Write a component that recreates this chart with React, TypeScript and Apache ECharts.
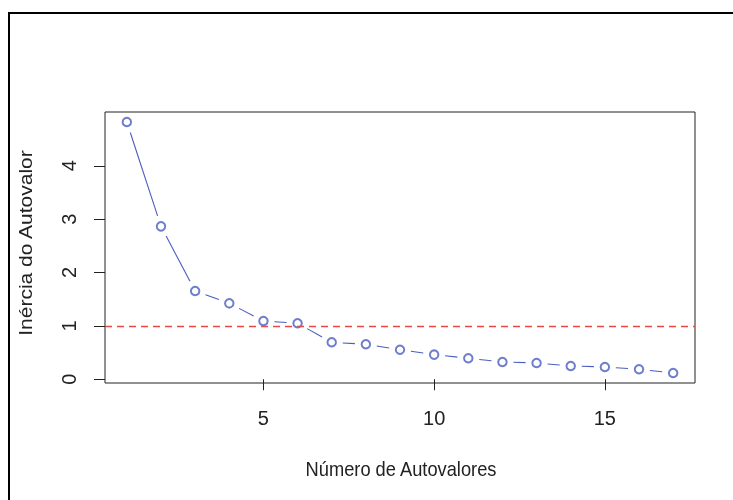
import React, { useEffect, useRef } from "react";
import * as echarts from "echarts";

const autovalorIndex: number[] = [1, 2, 3, 4, 5, 6, 7, 8, 9, 10, 11, 12, 13, 14, 15, 16, 17];
const inercia: number[] = [4.82, 2.865, 1.654, 1.423, 1.092, 1.049, 0.693, 0.655, 0.554, 0.461, 0.393, 0.324, 0.305, 0.249, 0.23, 0.187, 0.118];
const xTicks: number[] = [5, 10, 15];
const yTicks: number[] = [0, 1, 2, 3, 4];
const threshold = 1;
const xTitle = "Número de Autovalores";
const yTitle = "Inércia do Autovalor";

export default function App() {
  const ref = useRef<HTMLDivElement>(null);
  useEffect(() => {
    if (!ref.current) return;
    const chart = echarts.init(ref.current, null, { renderer: "svg" });
    const blue = "#4a5ec0";
    const font = "Liberation Sans, Arial, sans-serif";
    const pts = autovalorIndex.map((x, i) => [x, inercia[i]]);
    const segs = pts.slice(0, -1).map((p, i) => [p[0], p[1], pts[i + 1][0], pts[i + 1][1]]);
    const gap = 11;
    chart.setOption({
      animation: false,
      textStyle: { fontFamily: font },
      grid: {
        left: 105,
        top: 112,
        right: 38,
        bottom: 117,
        show: true,
        borderColor: "#222",
        borderWidth: 1,
        backgroundColor: "transparent",
      },
      xAxis: {
        type: "value",
        min: 0.36,
        max: 17.64,
        splitLine: { show: false },
        axisLine: { show: false },
        axisTick: { show: true, inside: false, length: 11, lineStyle: { color: "#222" }, customValues: xTicks },
        axisLabel: { customValues: xTicks, fontSize: 20, color: "#222", margin: 25, fontFamily: font },
      },
      yAxis: {
        type: "value",
        min: -0.07,
        max: 5.008,
        splitLine: { show: false },
        axisLine: { show: false },
        axisTick: { show: true, inside: false, length: 11, lineStyle: { color: "#222" }, customValues: yTicks },
        axisLabel: { customValues: yTicks, fontSize: 20, color: "#222", margin: 26, rotate: 90, fontFamily: font },
      },
      graphic: [
        {
          type: "rect",
          shape: { x: 9, y: 13, width: 900, height: 700 },
          style: { fill: "none", stroke: "#000", lineWidth: 2 },
          silent: true,
        },
        {
          type: "text",
          x: 401,
          y: 469,
          scaleX: 0.87,
          style: { text: xTitle, fontSize: 21, fill: "#222", align: "center", verticalAlign: "middle", fontFamily: font },
        },
        {
          type: "text",
          x: 26,
          y: 243,
          rotation: Math.PI / 2,
          scaleY: 0.87,
          style: { text: yTitle, fontSize: 21, fill: "#222", align: "center", verticalAlign: "middle", fontFamily: font },
        },
      ],
      series: [
        {
          type: "custom",
          data: segs,
          clip: true,
          renderItem: (params: any, api: any) => {
            const a = api.coord([api.value(0), api.value(1)]);
            const b = api.coord([api.value(2), api.value(3)]);
            const dx = b[0] - a[0];
            const dy = b[1] - a[1];
            const len = Math.sqrt(dx * dx + dy * dy);
            if (len <= 2 * gap) return null;
            const ux = dx / len;
            const uy = dy / len;
            return {
              type: "line",
              shape: { x1: a[0] + ux * gap, y1: a[1] + uy * gap, x2: b[0] - ux * gap, y2: b[1] - uy * gap },
              style: { stroke: blue, lineWidth: 1.1 },
            };
          },
        },
        {
          type: "scatter",
          data: pts,
          symbol: "emptyCircle",
          symbolSize: 8.5,
          itemStyle: { color: blue, borderColor: blue, borderWidth: 1 },
          markLine: {
            silent: true,
            symbol: "none",
            label: { show: false },
            lineStyle: { color: "#f04444", type: [7, 5], width: 1.3 },
            data: [{ yAxis: threshold }],
          },
        },
      ],
    });
    return () => chart.dispose();
  }, []);
  return <div ref={ref} style={{ position: "fixed", left: 0, top: 0, width: 733, height: 500 }} />;
}
